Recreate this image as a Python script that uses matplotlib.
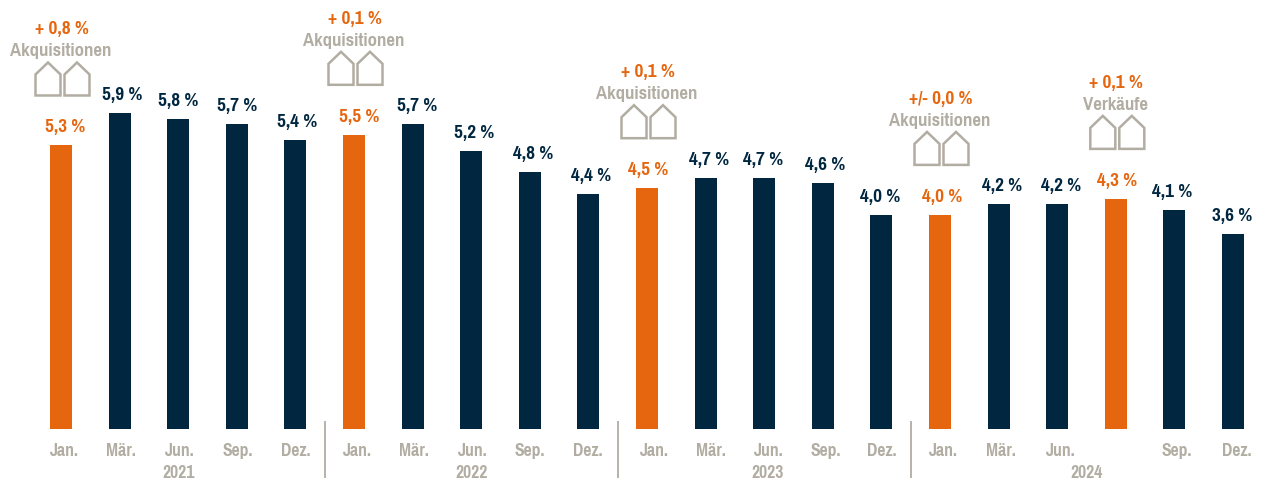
import matplotlib
matplotlib.use('Agg')
import matplotlib.pyplot as plt
from matplotlib.patches import Polygon
from matplotlib.transforms import ScaledTranslation, blended_transform_factory

months = ['Jan.', 'Mär.', 'Jun.', 'Sep.', 'Dez.',
          'Jan.', 'Mär.', 'Jun.', 'Sep.', 'Dez.',
          'Jan.', 'Mär.', 'Jun.', 'Sep.', 'Dez.',
          'Jan.', 'Mär.', 'Jun.', '', 'Sep.', 'Dez.']
values = [5.3, 5.9, 5.8, 5.7, 5.4,
          5.5, 5.7, 5.2, 4.8, 4.4,
          4.5, 4.7, 4.7, 4.6, 4.0,
          4.0, 4.2, 4.2, 4.3, 4.1, 3.65]
labels = ['5,3 %', '5,9 %', '5,8 %', '5,7 %', '5,4 %',
          '5,5 %', '5,7 %', '5,2 %', '4,8 %', '4,4 %',
          '4,5 %', '4,7 %', '4,7 %', '4,6 %', '4,0 %',
          '4,0 %', '4,2 %', '4,2 %', '4,3 %', '4,1 %', '3,6 %']
years = ['2021', '2022', '2023', '2024']
year_pos = [2, 7, 12.05, 17.5]
dividers = [4.5, 9.5, 14.5]
# Ereignisse: Balken-Index, Veraenderung, Art
event_idx = [0, 5, 10, 15, 18]
event_delta = ['+ 0,8 %', '+ 0,1 %', '+ 0,1 %', '+/- 0,0 %', '+ 0,1 %']
event_type = ['Akquisitionen', 'Akquisitionen', 'Akquisitionen', 'Akquisitionen', 'Verkäufe']

# Beschriftungen sitzen im Original nicht ganz mittig (Pixel)
label_dx = [4, 2.5, 0, 0, 1.5, 5, 5, 3, 3, 3, 1.5, 3, -1, 2, -1, 2.5, 3, 4, 1, -2, -1]
month_dx = [3, 1, 1, 1, 0, 3, 1, 1, 0, -1, 7, 5, 4, 3, 0, 3, 2, 3, 0, 2, 4]

navy = '#002640'
orange = '#E5660F'
grey = '#B2ADA2'
W, H = 1263, 481
px = 0.72  # Pixel -> Punkt bei dpi 100

plt.rcParams['font.family'] = ['Pragati Narrow', 'Liberation Sans', 'DejaVu Sans']
plt.rcParams['font.weight'] = 'bold'

fig = plt.figure(figsize=(W / 100, H / 100), dpi=100)
ax = fig.add_axes([0, (H - 429.5) / H, 1, 429.5 / H])
x = list(range(len(values)))
colors = [orange if i in event_idx else navy for i in x]
ax.bar(x, values, width=22 / 58.6, color=colors)
ax.set_xlim((0 - 61) / 58.6, (W - 61) / 58.6)
ax.set_ylim(0, 429.5 / 53.4)
for s in ax.spines.values():
    s.set_visible(False)
ax.set_yticks([])
ax.set_xticks(x, months, fontsize=13.8, color=grey)
ax.tick_params(axis='x', length=0, pad=9.7)
for tick, dx in zip(ax.get_xticklabels(), month_dx):
    tick.set_transform(tick.get_transform() + ScaledTranslation(dx / 100, 0, fig.dpi_scale_trans))

def off(text, i, v, dx, dy, color, size):
    ax.annotate(text, (i, v), xytext=(dx * px, dy * px), textcoords='offset points',
                ha='center', va='center', color=color, fontsize=size, annotation_clip=False)

for i, v in zip(x, values):
    c = orange if i in event_idx else navy
    off(labels[i], i, v, label_dx[i], 19, c, 15)

trans = blended_transform_factory(ax.transData, ax.transAxes)
for y, t in zip(year_pos, years):
    ax.annotate(t, (y, 0), xycoords=trans, xytext=(0, -43.5 * px), textcoords='offset points',
                ha='center', va='center', color=grey, fontsize=13.8, annotation_clip=False)
for d in dividers:
    ax.plot([d, d], [8 / 429.5, -49 / 429.5], transform=trans, color=grey, lw=1.3, clip_on=False,
            solid_capstyle='butt')

house = [(-12.5, 0), (-12.5, -21), (0, -33), (12.5, -21), (12.5, 0)]
for i, d, t in zip(event_idx, event_delta, event_type):
    v = values[i]
    off(d, i, v, 0.5, 117, orange, 15)
    off(t, i, v, -0.5, 95, grey, 14.7)
    bx, by = ax.transData.transform((i, v))
    for hx in (-14.5, 14.5):
        pts = [(bx + 1.5 + hx + a, by + 50 - b) for a, b in house]
        ax.add_patch(Polygon(pts, closed=True, fill=False, edgecolor=grey, lw=1.8,
                             transform=None, clip_on=False, joinstyle='miter'))

fig.savefig('out.png', dpi=100)
